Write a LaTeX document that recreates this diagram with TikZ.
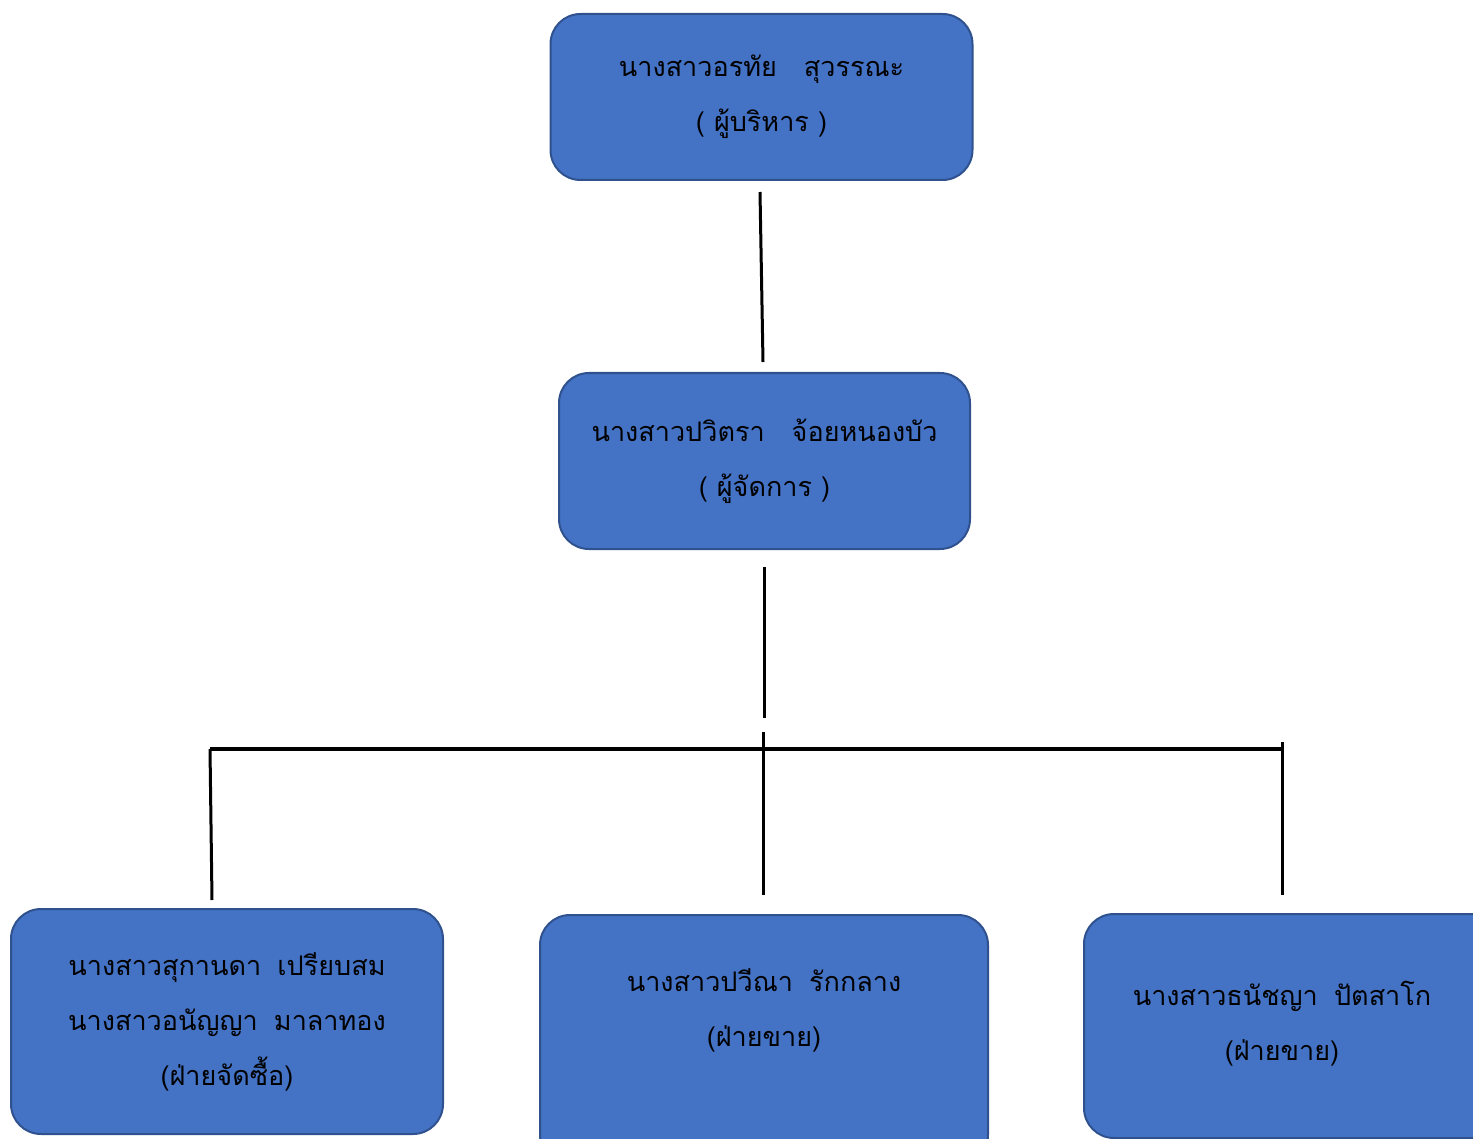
\documentclass[tikz,border=0pt]{standalone}
\usepackage{fontspec}
\usetikzlibrary{positioning}
\newfontfamily\thaifont[Script=Thai]{Loma}
\definecolor{boxfill}{HTML}{4472C4}
\definecolor{boxline}{HTML}{2F528F}
\newcommand{\gap}{\hspace{0.6em}}

\begin{document}
\begin{tikzpicture}[x=0.5pt,y=-0.5pt,
  box/.style={draw=boxline,line width=1pt,fill=boxfill,rounded corners=15pt,
    align=center,font=\thaifont\fontsize{13.5}{27.5}\selectfont,inner sep=0pt},
  txt/.style={align=center,font=\thaifont\fontsize{13.5}{27.5}\selectfont,inner sep=0pt},
  conn/.style={line width=1.5pt},
  bar/.style={line width=2pt}]
\useasboundingbox (0,0) rectangle (1473,1139);
% boxes
\node[box,minimum width=211pt,minimum height=83pt] (z) at (761.5,97)
  {นางสาวอรทัย\hspace{1em}สุวรรณะ\\( ผู้บริหาร )};
\node[box,minimum width=205.5pt,minimum height=88pt] (a) at (764.5,461)
  {นางสาวปวิตรา\hspace{1em}จ้อยหนองบัว\\( ผู้จัดการ )};
\node[box,minimum width=216pt,minimum height=112.5pt] (b) at (227,1021.5)
  {นางสาวสุกานดา\gap เปรียบสม\\นางสาวอนัญญา\gap มาลาทอง\\(ฝ่ายจัดซื้อ)};
\node[box,minimum width=224pt,minimum height=125pt] (c) at (764,1040) {};
\node[txt] (ct) at (764,1010) {นางสาวปวีณา\gap รักกลาง\\(ฝ่ายขาย)};
\node[box,minimum width=220pt,minimum height=112pt] (d) at (1304,1026)
  {};
\node[txt] (dt) at (1282,1024) {นางสาวธนัชญา\gap ปัตสาโก\\(ฝ่ายขาย)};
% line ends
\coordinate (z1) at (760,192);
\coordinate (a0) at (763,362);
\coordinate (a1) at (764,567);
\coordinate (h0) at (764,718);
\coordinate (hl) at (210,749);
\coordinate (hr) at (1284,749);
\coordinate (hm) at (763,732);
\coordinate (b0) at (212,900);
\coordinate (c0) at (763,895);
\coordinate (d1) at (1282,742);
\coordinate (d0) at (1282,895);
% connectors
\draw[conn] (z1) -- (a0);
\draw[conn] (a1) -- (h0);
\draw[bar] (hl) -- (hr);
\draw[conn] (hl) -- (b0);
\draw[conn] (hm) -- (c0);
\draw[conn] (d1) -- (d0);
\end{tikzpicture}
\end{document}
